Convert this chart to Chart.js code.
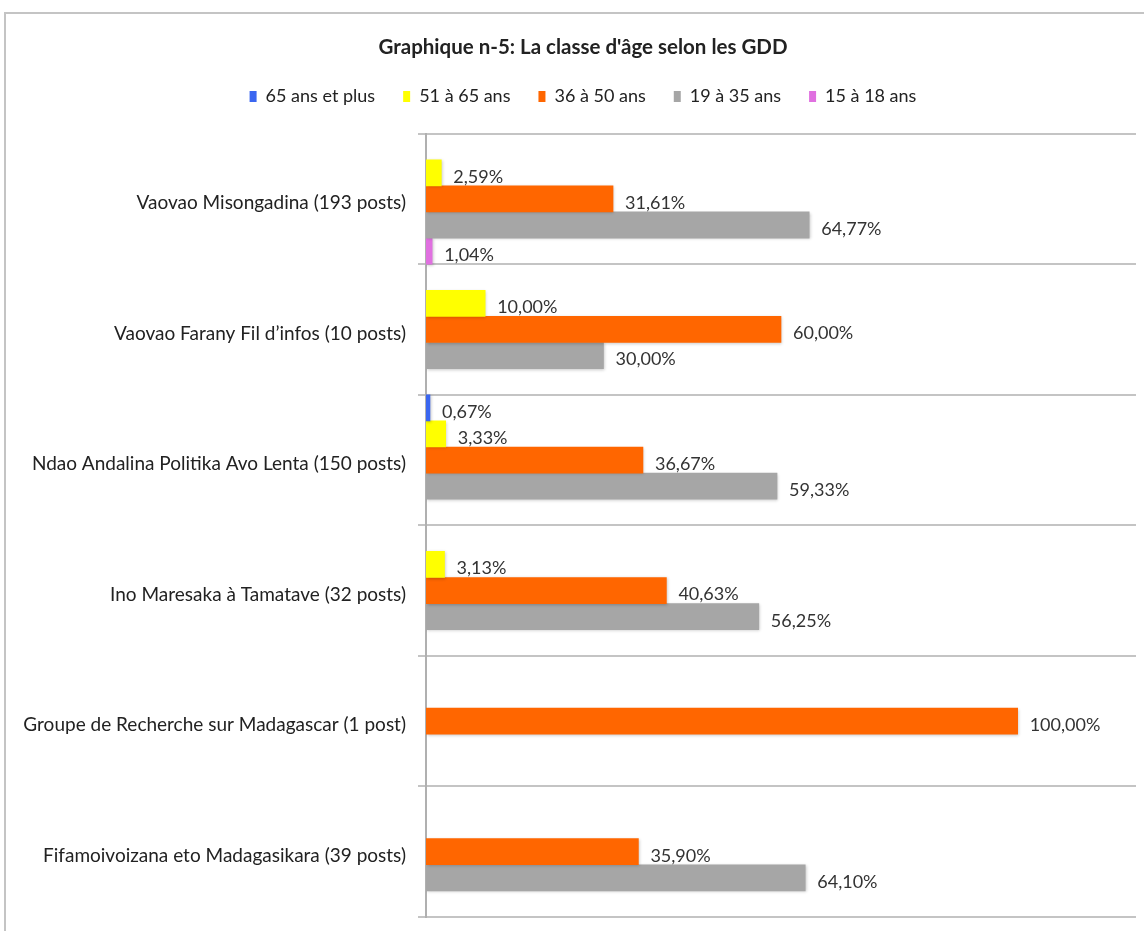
<!DOCTYPE html>
<html>
<head>
<meta charset="utf-8">
<script src="https://cdn.jsdelivr.net/npm/chart.js@4.4.1/dist/chart.umd.min.js"></script>
<style>
  html, body { margin: 0; padding: 0; background: #fff; overflow: hidden; }
  #wrap { position: relative; width: 1144px; height: 931px; overflow: hidden; }
  #frame { position: absolute; left: 4px; top: 12px; width: 1200px; height: 1000px;
           border-top: 2px solid #c4c4c4; border-left: 2px solid #c4c4c4; pointer-events: none; }
  canvas { position: absolute; left: 0; top: 0; }
</style>
</head>
<body>
<div id="wrap">
  <canvas id="c" width="1166" height="931"></canvas>
  <div id="frame"></div>
</div>
<script>
const categories = [
  "Vaovao Misongadina (193 posts)",
  "Vaovao Farany Fil d\u2019infos (10 posts)",
  "Ndao Andalina Politika Avo Lenta (150 posts)",
  "Ino Maresaka \u00e0 Tamatave (32 posts)",
  "Groupe de Recherche sur Madagascar (1 post)",
  "Fifamoivoizana eto Madagasikara (39 posts)"
];
const seriesNames = ["65 ans et plus", "51 \u00e0 65 ans", "36 \u00e0 50 ans", "19 \u00e0 35 ans", "15 \u00e0 18 ans"];
const ans65plus = [null, null, 0.67, null, null, null];
const ans51_65  = [2.59, 10.00, 3.33, 3.13, null, null];
const ans36_50  = [31.61, 60.00, 36.67, 40.63, 100.00, 35.90];
const ans19_35  = [64.77, 30.00, 59.33, 56.25, null, 64.10];
const ans15_18  = [1.04, null, null, null, null, null];
const seriesColors = ["#3a66f0", "#ffff00", "#ff6600", "#a6a6a6", "#e070e0"];

const FONT = "Lato, 'Open Sans', sans-serif";

const valueLabels = {
  id: 'valueLabels',
  afterDatasetsDraw(chart) {
    const ctx = chart.ctx;
    ctx.save();
    ctx.font = "18px " + FONT;
    ctx.fillStyle = "#333333";
    ctx.textAlign = "left";
    ctx.textBaseline = "middle";
    chart.data.datasets.forEach((ds, di) => {
      const meta = chart.getDatasetMeta(di);
      meta.data.forEach((el, i) => {
        const v = ds.data[i];
        if (v === null || v === undefined) return;
        const txt = v.toFixed(2).replace('.', ',') + '%';
        ctx.fillText(txt, el.x + 12, el.y + 4);
      });
    });
    ctx.restore();
  }
};

const barShadow = {
  id: 'barShadow',
  beforeDatasetsDraw(chart) {
    const ctx = chart.ctx;
    ctx.save();
    ctx.shadowColor = "rgba(0,0,0,0.22)";
    ctx.shadowBlur = 3;
    ctx.shadowOffsetX = 1;
    ctx.shadowOffsetY = 1;
  },
  afterDatasetsDraw(chart) {
    chart.ctx.restore();
  }
};

const seriesData = [ans65plus, ans51_65, ans36_50, ans19_35, ans15_18];

new Chart(document.getElementById('c'), {
  type: 'bar',
  data: {
    labels: categories,
    datasets: seriesData.map((d, i) => ({
      label: seriesNames[i],
      data: d,
      xAxisID: 'x',
      yAxisID: 'y',
      backgroundColor: seriesColors[i],
      borderWidth: 0,
      categoryPercentage: 1.0,
      barPercentage: 1.0
    }))
  },
  options: {
    indexAxis: 'y',
    responsive: false,
    animation: false,
    devicePixelRatio: 1,
    layout: { padding: { left: 0, right: 0, top: 35, bottom: 14 } },
    plugins: {
      title: {
        display: true,
        text: "Graphique n-5: La classe d'\u00e2ge selon les GDD",
        color: "#222",
        font: { family: FONT, size: 20.5, weight: 'bold' },
        padding: { top: 0, bottom: 0 }
      },
      legend: {
        display: true,
        position: 'top',
        labels: {
          color: "#222",
          font: { family: FONT, size: 18 },
          boxWidth: 7,
          boxHeight: 11,
          padding: 28
        }
      },
      tooltip: { enabled: false }
    },
    scales: {
      x: {
        type: 'linear',
        display: true,
        position: 'top',
        min: 0,
        max: 120,
        afterFit(scale) { scale.height = 18; },
        ticks: { display: false },
        grid: { display: false },
        border: { display: false }
      },
      y: {
        type: 'category',
        afterFit(scale) { scale.width = 426; scale.paddingTop = 0; scale.paddingBottom = 0; },
        grid: {
          offset: true,
          color: "#c4c4c4",
          lineWidth: 2,
          tickLength: 8,
          drawOnChartArea: true
        },
        border: { display: true, color: "#b0b0b0", width: 2 },
        ticks: {
          color: "#222",
          font: { family: FONT, size: 19 },
          padding: 12,
          labelOffset: 4
        }
      },
      yRightSpace: {
        type: 'linear',
        axis: 'y',
        position: 'right',
        display: true,
        afterFit(scale) { scale.width = 30; scale.paddingTop = 0; scale.paddingBottom = 0; },
        ticks: { display: false },
        grid: { display: false },
        border: { display: false }
      }
    }
  },
  plugins: [barShadow, valueLabels]
});
</script>
</body>
</html>
